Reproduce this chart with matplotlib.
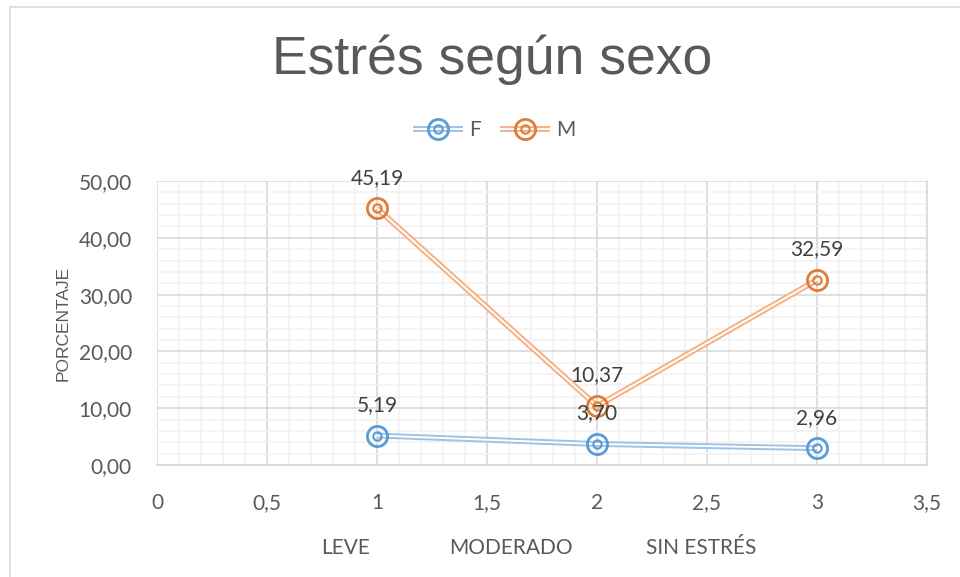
import numpy as np
import matplotlib.pyplot as plt
from matplotlib.lines import Line2D
from matplotlib.legend_handler import HandlerTuple
from matplotlib.ticker import MultipleLocator, FuncFormatter

x = [1, 2, 3]
f_vals = [5.19, 3.70, 2.96]
m_vals = [45.19, 10.37, 32.59]
series = ["F", "M"]
categories = ["LEVE", "MODERADO", "SIN ESTRÉS"]

colors = {"F": ("#5B9BD5", "#9DC3E6"), "M": ("#E07B38", "#F4B183")}
txt = "#595959"

fig = plt.figure(figsize=(9.6, 5.77), dpi=100)
ax = fig.add_axes([0.1635, 0.1941, 0.8021, 0.4922])

# chart border (Excel chart area)
fig.add_artist(Line2D([10/960, 10/960], [0, 1 - 7/577], color="#D9D9D9", lw=1.2))
fig.add_artist(Line2D([10/960, 1], [1 - 7/577, 1 - 7/577], color="#D9D9D9", lw=1.2))

handles = []
for name, vals in zip(series, [f_vals, m_vals]):
    dark, light = colors[name]
    h1, = ax.plot(x, vals, color=light, lw=4.2, solid_capstyle="butt", zorder=3)
    h2, = ax.plot(x, vals, color="white", lw=1.4, zorder=4)
    h3, = ax.plot(x, vals, ls="none", marker="o", ms=14.5, mfc="none", mec=dark, mew=2.0, zorder=5)
    h4, = ax.plot(x, vals, ls="none", marker="o", ms=6, mfc="none", mec=dark, mew=1.5, zorder=5)
    handles.append((h1, h2, h3, h4))
    for xi, v in zip(x, vals):
        ax.annotate(f"{v:.2f}".replace(".", ","), (xi, v), xytext=(0, 22), textcoords="offset points",
                    ha="center", va="center", fontsize=15, color="#404040", family="Lato", zorder=6)

ax.set_xlim(0, 3.5)
ax.set_ylim(0, 50)
ax.xaxis.set_major_locator(MultipleLocator(0.5))
ax.xaxis.set_minor_locator(MultipleLocator(0.1))
ax.yaxis.set_major_locator(MultipleLocator(10))
ax.yaxis.set_minor_locator(MultipleLocator(2))
ax.xaxis.set_major_formatter(FuncFormatter(lambda v, p: f"{v:g}".replace(".", ",")))
ax.yaxis.set_major_formatter(FuncFormatter(lambda v, p: f"{v:.2f}".replace(".", ",")))
ax.grid(which="major", color="#D9D9D9", lw=1.2)
ax.grid(which="minor", color="#F2F2F2", lw=1.2)
ax.set_axisbelow(True)
ax.tick_params(which="both", length=0)
ax.tick_params(axis="y", pad=18, labelsize=15, labelcolor=txt)
ax.tick_params(axis="x", pad=20, labelsize=15, labelcolor=txt)
for lbl in ax.get_xticklabels() + ax.get_yticklabels():
    lbl.set_family("Lato")
for s in ["top", "left"]:
    ax.spines[s].set_visible(False)
for s in ["bottom", "right"]:
    ax.spines[s].set_color("#D9D9D9")
    ax.spines[s].set_linewidth(1.2)

ax.set_ylabel("PORCENTAJE", fontsize=12.5, color=txt, family="Liberation Sans", labelpad=6)

for xpos, cat in zip([346, 511, 701], categories):
    fig.text(xpos / 960, 1 - 548 / 577, cat, ha="center", va="center", fontsize=15, color=txt, family="Lato")

fig.text(492 / 960, 1 - 60 / 577, "Estrés según sexo", ha="center", va="center",
         fontsize=38.5, color=txt, family="Liberation Sans")

fig.legend(handles, series, handler_map={tuple: HandlerTuple(ndivide=1, pad=0)}, loc="center",
           bbox_to_anchor=(494 / 960, 1 - 130 / 577), ncol=2, frameon=False, handlelength=2.4,
           columnspacing=0.9, handletextpad=0.3, prop={"family": "Lato", "size": 15}, labelcolor=txt)

plt.savefig("out.png")
